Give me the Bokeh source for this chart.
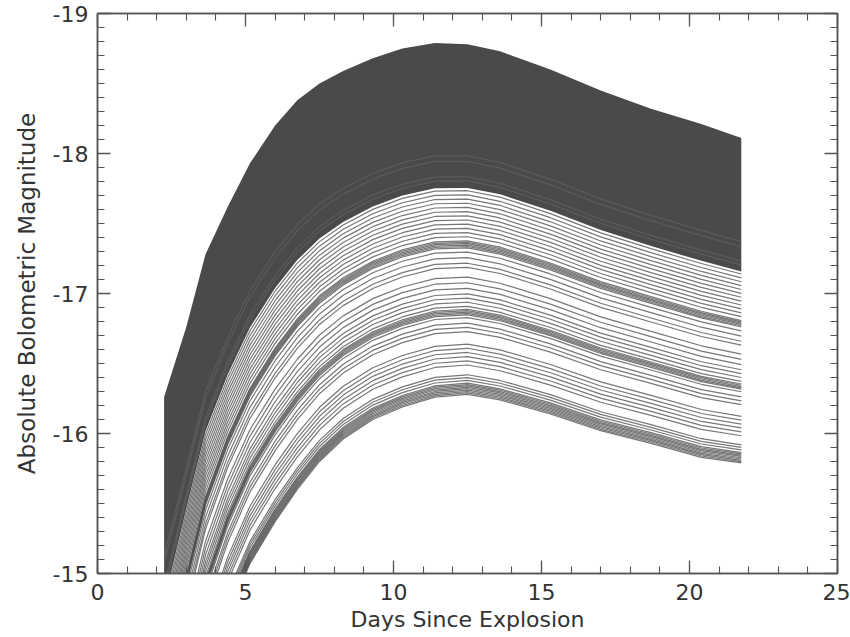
import numpy as np
from bokeh.plotting import figure
from bokeh.models import Range1d, LinearAxis, FixedTicker
from bokeh.embed import file_html
from bokeh.resources import INLINE

# ---- data ----
days = [2.25, 3.0, 3.65, 4.4, 5.15, 6.0, 6.75, 7.5, 8.3, 9.3, 10.3,
        11.4, 12.5, 13.6, 15.3, 17.0, 18.7, 20.4, 21.75]
# brightest light curve (upper envelope of the grid)
upper_envelope = [-16.26, -16.76, -17.28, -17.62, -17.93, -18.20, -18.38, -18.50,
                  -18.59, -18.68, -18.75, -18.79, -18.78, -18.73, -18.60, -18.45,
                  -18.32, -18.21, -18.11]
# faintest light curve (lower envelope of the grid; early points lie below the axis)
faintest_curve = [-12.7, -13.6, -14.2, -14.7, -15.07, -15.37, -15.60, -15.80,
                  -15.96, -16.10, -16.19, -16.26, -16.28, -16.24, -16.14, -16.02,
                  -15.93, -15.83, -15.79]
# peak magnitude where the fully dark (overlapping) band ends
dense_floor_peak = -17.76
# faint lighter streaks visible inside the dark band (peak magnitudes)
streak_peaks = [-17.99, -17.95, -17.84, -17.81]
# peak magnitudes of the individually visible curves
line_peaks = [-17.74, -17.71, -17.68, -17.65, -17.62, -17.59, -17.56, -17.53, -17.50,
              -17.47, -17.44, -17.41,
              -17.38, -17.37, -17.36, -17.35, -17.34, -17.33,
              -17.30, -17.26, -17.22, -17.19, -17.12, -17.08, -17.04, -17.00, -16.97, -16.94,
              -16.91, -16.89, -16.88, -16.87, -16.86, -16.85, -16.83,
              -16.79, -16.76, -16.73, -16.64, -16.61, -16.58, -16.55, -16.52, -16.49,
              -16.42, -16.40,
              -16.38, -16.36, -16.35, -16.34, -16.33, -16.32, -16.31, -16.30, -16.29, -16.28]
x_ticks = [0, 5, 10, 15, 20, 25]
y_ticks = [-19, -18, -17, -16, -15]

# ---- build curves from the envelopes ----
top = np.array(upper_envelope)
bot = np.array(faintest_curve)
peak_top = top.min()
peak_bot = bot.min()


def curve(pk):
    w = (pk - peak_top) / (peak_bot - peak_top)
    return ((1 - w) * top + w * bot).tolist()


FONT = "DejaVu Sans"
TXT = "#333333"
AX = "#555555"

p = figure(width=850, height=637,
           x_range=Range1d(0, 25), y_range=Range1d(-15, -19),
           output_backend="svg", toolbar_location=None,
           min_border_left=97, min_border_right=13,
           min_border_top=13, min_border_bottom=64,
           background_fill_color="white", border_fill_color="white")
p.grid.visible = False
p.outline_line_color = AX
p.outline_line_width = 1.5

dark = "#4a4a4a"
p.varea(x=days, y1=upper_envelope, y2=curve(dense_floor_peak), fill_color=dark)

p.multi_line(xs=[days] * len(streak_peaks), ys=[curve(pk) for pk in streak_peaks],
             line_color="#7a7a7a", line_width=1, line_alpha=0.45)

p.multi_line(xs=[days] * len(line_peaks), ys=[curve(pk) for pk in line_peaks],
             line_color="#4a4a4a", line_width=1.2, line_alpha=0.75)

xt = FixedTicker(ticks=x_ticks, minor_ticks=list(range(0, 26)))
yt = FixedTicker(ticks=y_ticks, minor_ticks=[round(-19 + 0.1 * i, 1) for i in range(41)])


def style_axis(ax, ticker, ticks, show_labels=True):
    ax.ticker = ticker
    ax.axis_line_color = AX
    ax.axis_line_width = 1.5
    ax.major_tick_line_color = AX
    ax.minor_tick_line_color = AX
    ax.major_tick_line_width = 1.3
    ax.minor_tick_line_width = 1.1
    ax.major_tick_in = 13
    ax.major_tick_out = 0
    ax.minor_tick_in = 7
    ax.minor_tick_out = 0
    ax.major_label_text_font = FONT
    ax.axis_label_text_font = FONT
    ax.axis_label_text_color = TXT
    ax.axis_label_text_font_style = "normal"
    if show_labels:
        ax.major_label_text_color = TXT
        ax.major_label_text_font_size = "22px"
        ax.axis_label_text_font_size = "22px"
        ax.major_label_overrides = {t: str(t) for t in ticks}
    else:
        ax.major_label_text_color = None
        ax.major_label_text_font_size = "1px"
        ax.major_label_standoff = 0


style_axis(p.xaxis[0], xt, x_ticks)
p.xaxis[0].axis_label = "Days Since Explosion"
p.xaxis[0].major_label_standoff = 10
p.xaxis[0].axis_label_standoff = 4

style_axis(p.yaxis[0], yt, y_ticks)
p.yaxis[0].axis_label = "Absolute Bolometric Magnitude"
p.yaxis[0].axis_label_text_font_size = "23px"
p.yaxis[0].major_label_standoff = 9
p.yaxis[0].axis_label_standoff = 10

right = LinearAxis()
style_axis(right, yt, y_ticks, show_labels=False)
p.add_layout(right, "right")

top_ax = LinearAxis()
style_axis(top_ax, xt, x_ticks, show_labels=False)
p.add_layout(top_ax, "above")

open("out.html", "w").write(file_html(p, INLINE))
